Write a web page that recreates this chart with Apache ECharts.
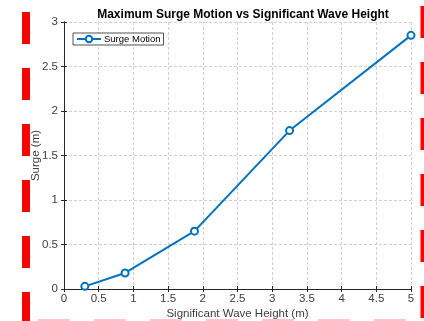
<!DOCTYPE html>
<html>
<head>
<meta charset="utf-8">
<script src="https://cdn.jsdelivr.net/npm/echarts@6/dist/echarts.min.js"></script>
<style>html,body{margin:0;padding:0;background:#fff;}#c{width:424px;height:321px;}</style>
</head>
<body>
<div id="c"></div>
<script>
var waveHeight = [0.3, 0.88, 1.88, 3.25, 5.0];
var surge = [0.03, 0.18, 0.65, 1.78, 2.85];
var seriesName = 'Surge Motion';
var titleText = 'Maximum Surge Motion vs Significant Wave Height';
var xName = 'Significant Wave Height (m)';
var yName = 'Surge (m)';

var chart = echarts.init(document.getElementById('c'));
var font = 'Liberation Sans, Arial, sans-serif';
var axisCol = '#262626';
var gridLine = {show: true, lineStyle: {color: '#d0d0d0', type: [3, 2], width: 1}};
var pts = waveHeight.map(function (x, i) { return [x, surge[i]]; });

chart.setOption({
  animation: false,
  backgroundColor: '#fff',
  title: {
    text: titleText, left: 238, top: 4, textAlign: 'center',
    textStyle: {fontFamily: font, fontSize: 12, fontWeight: 'bold', color: '#000'}
  },
  legend: {
    data: [seriesName], left: 73, top: 33, orient: 'vertical',
    itemWidth: 24, itemHeight: 8, itemGap: 0,
    padding: [1, 3, 1, 3], borderColor: '#262626', borderWidth: 0.8, backgroundColor: '#fff',
    textStyle: {fontFamily: font, fontSize: 9.5, color: '#000', padding: [0, 0, 0, -2]}
  },
  grid: {left: 64, right: 13, top: 22, bottom: 32, containLabel: false, outerBoundsMode: 'none'},
  xAxis: [{
    type: 'value', min: 0, max: 5, interval: 0.5,
    name: xName, nameLocation: 'middle', nameGap: 19, nameMoveOverlap: false,
    nameTextStyle: {fontFamily: font, fontSize: 11.5, color: '#404040'},
    axisLine: {show: true, lineStyle: {color: axisCol, width: 1}},
    axisTick: {show: true, inside: true, length: 3, lineStyle: {color: axisCol}},
    axisLabel: {fontFamily: font, fontSize: 11.5, color: '#404040', margin: 4},
    splitLine: gridLine
  }, {
    type: 'value', min: 0, max: 5, interval: 0.5, position: 'top',
    axisLine: {show: true, lineStyle: {color: axisCol, width: 1}},
    axisTick: {show: true, inside: true, length: 3, lineStyle: {color: axisCol}},
    axisLabel: {show: false}, splitLine: {show: false}
  }],
  yAxis: [{
    type: 'value', min: 0, max: 3, interval: 0.5,
    name: yName, nameLocation: 'middle', nameGap: 22, nameRotate: 90, nameMoveOverlap: false,
    nameTextStyle: {fontFamily: font, fontSize: 11.5, color: '#404040'},
    axisLine: {show: true, lineStyle: {color: axisCol, width: 1}},
    axisTick: {show: true, inside: true, length: 3, lineStyle: {color: axisCol}},
    axisLabel: {fontFamily: font, fontSize: 11.5, color: '#404040', margin: 6},
    splitLine: gridLine
  }, {
    type: 'value', min: 0, max: 3, interval: 0.5, position: 'right',
    axisLine: {show: true, lineStyle: {color: axisCol, width: 1}},
    axisTick: {show: true, inside: true, length: 3, lineStyle: {color: axisCol}},
    axisLabel: {show: false}, splitLine: {show: false}
  }],
  series: [{
    name: seriesName, type: 'line', data: pts,
    xAxisIndex: 0, yAxisIndex: 0,
    symbol: 'emptyCircle', symbolSize: 7,
    lineStyle: {color: '#0072BD', width: 2},
    itemStyle: {color: '#0072BD', borderColor: '#0072BD', borderWidth: 1.8},
    clip: false
  }],
  graphic: [
    {type: 'line', shape: {x1: 26, y1: 12, x2: 26, y2: 330}, style: {stroke: '#ff0000', lineWidth: 8, lineDash: [32, 24]}, z: 100},
    {type: 'line', shape: {x1: 424.5, y1: 6, x2: 424.5, y2: 330}, style: {stroke: '#ff0000', lineWidth: 8, lineDash: [32, 24]}, z: 100},
    {type: 'line', shape: {x1: 38, y1: 320, x2: 410, y2: 320}, style: {stroke: '#ffb4b4', lineWidth: 1.5, lineDash: [32, 24]}, z: 100}
  ]
});
</script>
</body>
</html>
